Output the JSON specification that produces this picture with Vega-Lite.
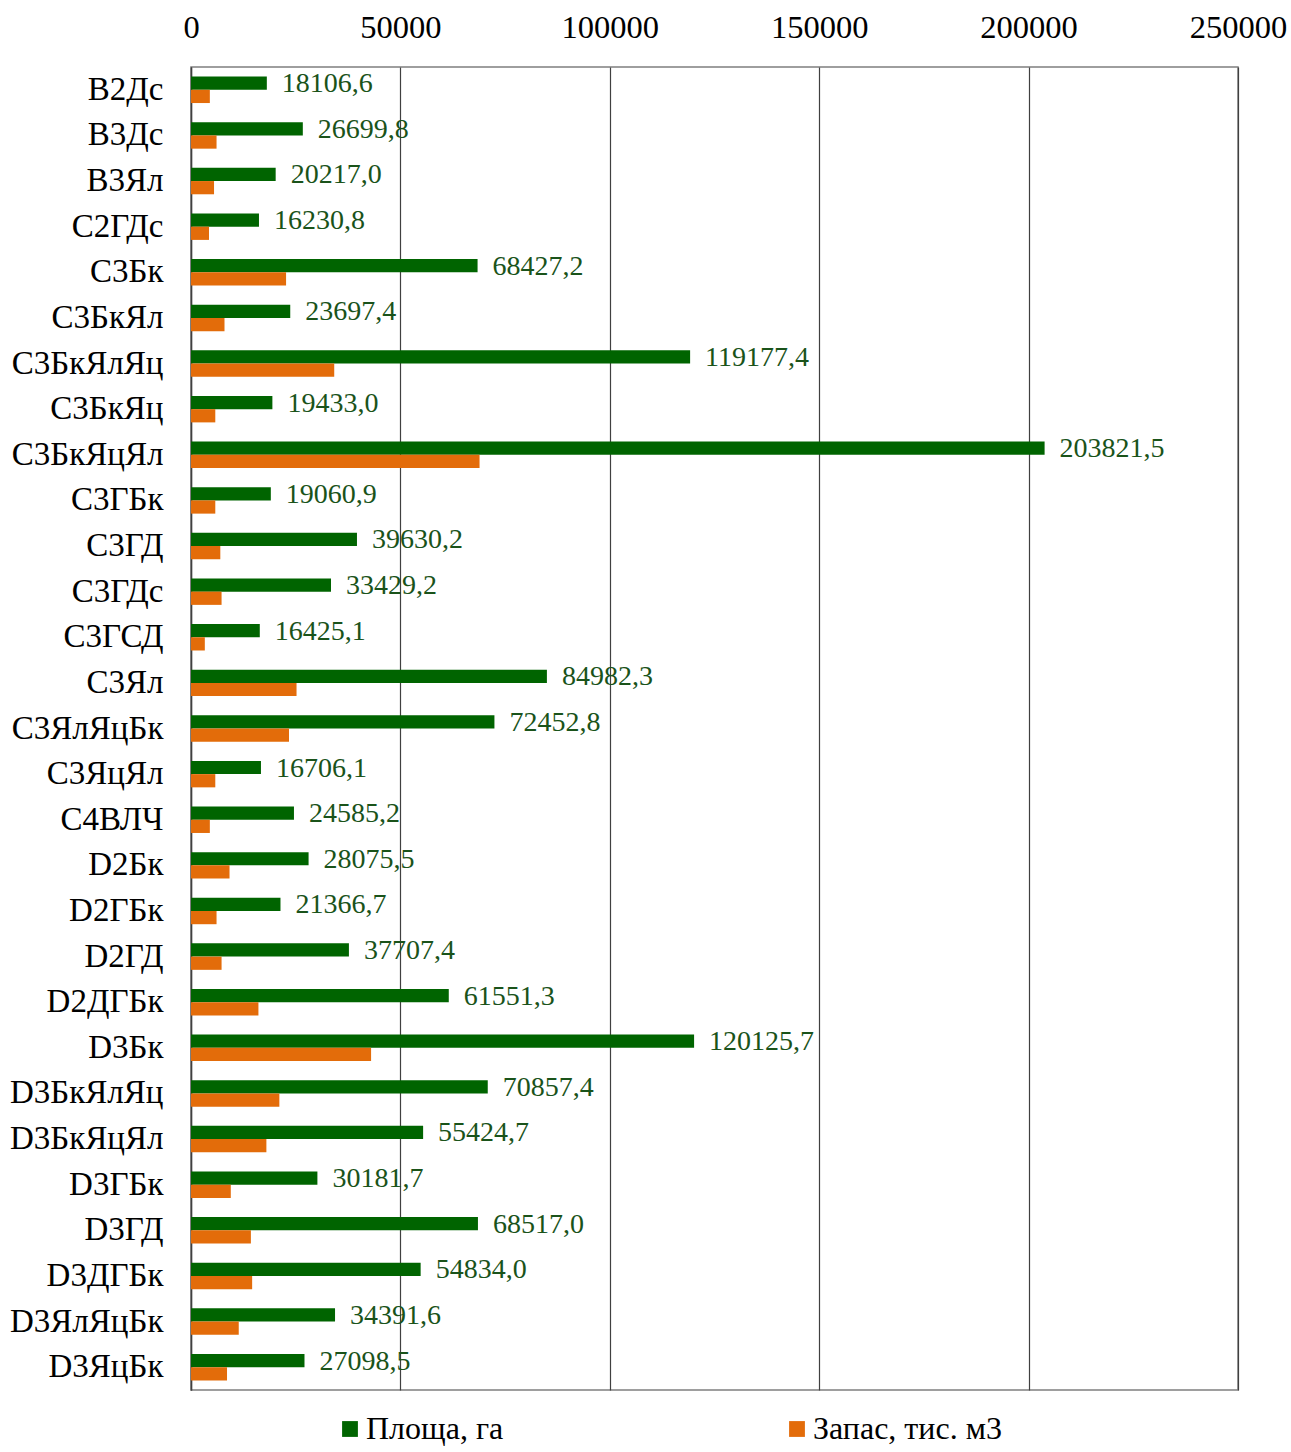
{
  "$schema": "https://vega.github.io/schema/vega-lite/v6.json",
  "width": 1047,
  "height": 1323,
  "autosize": {"type": "none"},
  "padding": {"left": 191, "top": 67, "right": 53, "bottom": 62},
  "background": "white",
  "config": {
    "view": {"stroke": "#7f7f7f", "strokeWidth": 1.5},
    "font": "Liberation Serif"
  },
  "data": {
    "values": [
      {"cat": "B2Дс", "series": "Площа, га", "value": 18106.6, "label": "18106,6"},
      {"cat": "B2Дс", "series": "Запас, тис. м3", "value": 4500},
      {"cat": "B3Дс", "series": "Площа, га", "value": 26699.8, "label": "26699,8"},
      {"cat": "B3Дс", "series": "Запас, тис. м3", "value": 6100},
      {"cat": "B3Ял", "series": "Площа, га", "value": 20217.0, "label": "20217,0"},
      {"cat": "B3Ял", "series": "Запас, тис. м3", "value": 5500},
      {"cat": "C2ГДс", "series": "Площа, га", "value": 16230.8, "label": "16230,8"},
      {"cat": "C2ГДс", "series": "Запас, тис. м3", "value": 4300},
      {"cat": "C3Бк", "series": "Площа, га", "value": 68427.2, "label": "68427,2"},
      {"cat": "C3Бк", "series": "Запас, тис. м3", "value": 22700},
      {"cat": "C3БкЯл", "series": "Площа, га", "value": 23697.4, "label": "23697,4"},
      {"cat": "C3БкЯл", "series": "Запас, тис. м3", "value": 8000},
      {"cat": "C3БкЯлЯц", "series": "Площа, га", "value": 119177.4, "label": "119177,4"},
      {"cat": "C3БкЯлЯц", "series": "Запас, тис. м3", "value": 34200},
      {"cat": "C3БкЯц", "series": "Площа, га", "value": 19433.0, "label": "19433,0"},
      {"cat": "C3БкЯц", "series": "Запас, тис. м3", "value": 5800},
      {"cat": "C3БкЯцЯл", "series": "Площа, га", "value": 203821.5, "label": "203821,5"},
      {"cat": "C3БкЯцЯл", "series": "Запас, тис. м3", "value": 68900},
      {"cat": "C3ГБк", "series": "Площа, га", "value": 19060.9, "label": "19060,9"},
      {"cat": "C3ГБк", "series": "Запас, тис. м3", "value": 5800},
      {"cat": "C3ГД", "series": "Площа, га", "value": 39630.2, "label": "39630,2"},
      {"cat": "C3ГД", "series": "Запас, тис. м3", "value": 7000},
      {"cat": "C3ГДс", "series": "Площа, га", "value": 33429.2, "label": "33429,2"},
      {"cat": "C3ГДс", "series": "Запас, тис. м3", "value": 7300},
      {"cat": "C3ГСД", "series": "Площа, га", "value": 16425.1, "label": "16425,1"},
      {"cat": "C3ГСД", "series": "Запас, тис. м3", "value": 3300},
      {"cat": "C3Ял", "series": "Площа, га", "value": 84982.3, "label": "84982,3"},
      {"cat": "C3Ял", "series": "Запас, тис. м3", "value": 25200},
      {"cat": "C3ЯлЯцБк", "series": "Площа, га", "value": 72452.8, "label": "72452,8"},
      {"cat": "C3ЯлЯцБк", "series": "Запас, тис. м3", "value": 23400},
      {"cat": "C3ЯцЯл", "series": "Площа, га", "value": 16706.1, "label": "16706,1"},
      {"cat": "C3ЯцЯл", "series": "Запас, тис. м3", "value": 5800},
      {"cat": "C4ВЛЧ", "series": "Площа, га", "value": 24585.2, "label": "24585,2"},
      {"cat": "C4ВЛЧ", "series": "Запас, тис. м3", "value": 4500},
      {"cat": "D2Бк", "series": "Площа, га", "value": 28075.5, "label": "28075,5"},
      {"cat": "D2Бк", "series": "Запас, тис. м3", "value": 9200},
      {"cat": "D2ГБк", "series": "Площа, га", "value": 21366.7, "label": "21366,7"},
      {"cat": "D2ГБк", "series": "Запас, тис. м3", "value": 6100},
      {"cat": "D2ГД", "series": "Площа, га", "value": 37707.4, "label": "37707,4"},
      {"cat": "D2ГД", "series": "Запас, тис. м3", "value": 7300},
      {"cat": "D2ДГБк", "series": "Площа, га", "value": 61551.3, "label": "61551,3"},
      {"cat": "D2ДГБк", "series": "Запас, тис. м3", "value": 16100},
      {"cat": "D3Бк", "series": "Площа, га", "value": 120125.7, "label": "120125,7"},
      {"cat": "D3Бк", "series": "Запас, тис. м3", "value": 43000},
      {"cat": "D3БкЯлЯц", "series": "Площа, га", "value": 70857.4, "label": "70857,4"},
      {"cat": "D3БкЯлЯц", "series": "Запас, тис. м3", "value": 21100},
      {"cat": "D3БкЯцЯл", "series": "Площа, га", "value": 55424.7, "label": "55424,7"},
      {"cat": "D3БкЯцЯл", "series": "Запас, тис. м3", "value": 18000},
      {"cat": "D3ГБк", "series": "Площа, га", "value": 30181.7, "label": "30181,7"},
      {"cat": "D3ГБк", "series": "Запас, тис. м3", "value": 9500},
      {"cat": "D3ГД", "series": "Площа, га", "value": 68517.0, "label": "68517,0"},
      {"cat": "D3ГД", "series": "Запас, тис. м3", "value": 14300},
      {"cat": "D3ДГБк", "series": "Площа, га", "value": 54834.0, "label": "54834,0"},
      {"cat": "D3ДГБк", "series": "Запас, тис. м3", "value": 14600},
      {"cat": "D3ЯлЯцБк", "series": "Площа, га", "value": 34391.6, "label": "34391,6"},
      {"cat": "D3ЯлЯцБк", "series": "Запас, тис. м3", "value": 11400},
      {"cat": "D3ЯцБк", "series": "Площа, га", "value": 27098.5, "label": "27098,5"},
      {"cat": "D3ЯцБк", "series": "Запас, тис. м3", "value": 8600}
    ]
  },
  "encoding": {
    "y": {
      "field": "cat",
      "type": "nominal",
      "sort": null,
      "scale": {"paddingInner": 0.42, "paddingOuter": 0.21},
      "axis": {
        "title": null,
        "ticks": false,
        "domainColor": "#404040",
        "domainWidth": 1.5,
        "labelFont": "Liberation Serif",
        "labelFontSize": 33,
        "labelColor": "#000000",
        "labelPadding": 28,
        "labelLimit": 300
      }
    },
    "x": {
      "field": "value",
      "type": "quantitative",
      "scale": {"domain": [0, 250000], "nice": false},
      "axis": {
        "orient": "top",
        "title": null,
        "values": [0, 50000, 100000, 150000, 200000, 250000],
        "format": "d",
        "ticks": false,
        "domain": false,
        "grid": true,
        "gridColor": "#404040",
        "gridWidth": 1.2,
        "labelFont": "Liberation Serif",
        "labelFontSize": 32.5,
        "labelColor": "#000000",
        "labelPadding": 23,
        "labelFlush": false
      }
    },
    "yOffset": {
      "field": "series",
      "type": "nominal",
      "scale": {"domain": ["Площа, га", "Запас, тис. м3"]}
    }
  },
  "layer": [
    {
      "mark": {"type": "bar"},
      "encoding": {
        "color": {
          "field": "series",
          "type": "nominal",
          "scale": {"domain": ["Площа, га", "Запас, тис. м3"], "range": ["#006400", "#e36c0a"]},
          "legend": {
            "title": null,
            "orient": "none",
            "legendX": 143,
            "legendY": 1346,
            "direction": "horizontal",
            "columns": 2,
            "columnPadding": 277,
            "symbolType": "square",
            "symbolSize": 250,
            "symbolStrokeWidth": 0,
            "labelFont": "Liberation Serif",
            "labelFontSize": 32,
            "labelColor": "#000000",
            "labelOffset": 0,
            "labelLimit": 400
          }
        }
      }
    },
    {
      "transform": [{"filter": "datum.series === 'Площа, га'"}],
      "mark": {
        "type": "text",
        "align": "left",
        "baseline": "middle",
        "dx": 15,
        "dy": 1,
        "font": "Liberation Serif",
        "fontSize": 28,
        "color": "#1a531a"
      },
      "encoding": {
        "text": {"field": "label", "type": "nominal"}
      }
    }
  ]
}
